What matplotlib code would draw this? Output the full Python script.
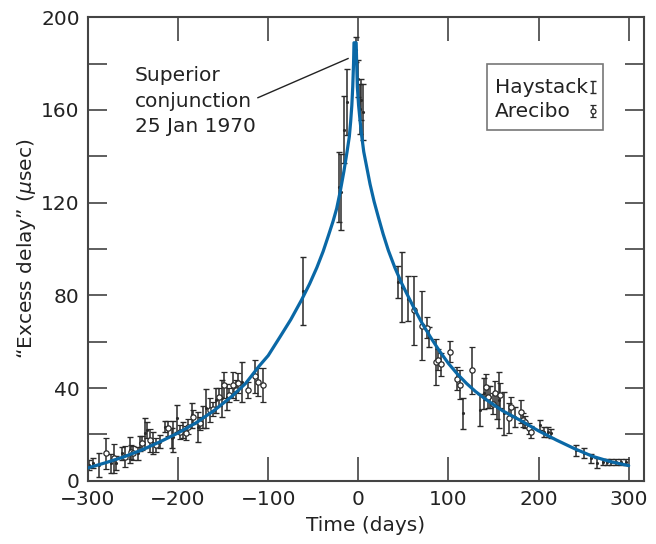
import matplotlib
matplotlib.use("Agg")
import matplotlib.pyplot as plt
from matplotlib.patches import Rectangle
from matplotlib.ticker import MultipleLocator

plt.rcParams["font.family"] = ["DejaVu Sans"]
plt.rcParams["mathtext.fontset"] = "dejavusans"

# Haystack points: day, delay (usec), error
hay_day = [-298.8, -294.4, -287.7, -274.0, -268.5, -261.8, -253.6, -244.4, -242.5, -236.2,
           -234.0, -227.7, -220.3, -214.8, -207.3, -205.5, -201.1, -194.4, -185.1, -177.7,
           -172.2, -169.2, -157.4, -151.8, -146.2, -128.8,
           -61.8, -21.1, -19.2, -15.5, -12.2, -2.6, -0.7, 1.9, 3.0, 5.6,
           44.5, 48.9, 54.8, 78.9, 116.7, 134.5, 139.7, 146.3, 153.7, 155.6,
           161.9, 174.1, 201.9, 206.3, 210.0, 213.7, 241.9, 250.8, 258.5, 264.8,
           271.5, 276.0, 280.8, 286.3, 291.5, 297.0]
hay_val = [6.8, 7.5, 6.8, 7.5, 7.5, 11.8, 13.2, 11.8, 16.1, 20.4,
           21.9, 16.1, 16.8, 23.3, 18.3, 19.0, 26.9, 21.9, 28.3, 23.3,
           27.6, 31.2, 34.8, 35.5, 36.2, 42.7,
           82.0, 126.7, 124.6, 151.5, 163.4, 186.0, 173.4, 160.5, 164.5, 159.0,
           85.8, 83.4, 78.6, 62.1, 29.0, 30.5, 37.7, 36.2, 31.9, 34.8,
           29.0, 27.3, 24.0, 21.1, 21.1, 20.4, 13.2, 12.1, 9.6, 7.5,
           8.2, 8.2, 8.2, 8.2, 8.2, 8.2]
hay_err = [2.2, 2.2, 5.0, 4.0, 3.0, 2.9, 5.7, 2.9, 3.2, 6.5,
           3.6, 4.7, 2.9, 2.5, 4.3, 6.8, 5.7, 3.6, 5.4, 6.5,
           4.7, 8.3, 5.4, 7.9, 5.7, 8.6,
           14.7, 15.0, 16.2, 14.5, 14.4, 5.4, 8.0, 10.8, 9.0, 12.0,
           6.8, 15.1, 9.6, 4.3, 6.8, 6.8, 6.6, 4.7, 5.4, 12.0,
           9.3, 4.3, 2.2, 2.2, 2.2, 2.0, 2.4, 2.2, 2.0, 2.2,
           1.3, 1.3, 1.3, 1.3, 1.3, 1.3]

# Arecibo points
are_day = [-279.6, -271.1, -259.2, -251.8, -249.9, -239.6, -230.7, -224.8, -211.1, -198.1,
           -191.4, -188.8, -183.3, -175.9, -164.8, -161.8, -154.4, -149.2, -143.3, -139.6,
           -135.9, -133.3, -122.2, -114.8, -111.1, -106.2,
           61.9, 70.4, 76.7, 85.9, 88.9, 91.9, 101.9, 109.3, 113.0, 126.0,
           141.9, 143.4, 149.3, 151.9, 157.4, 166.7, 169.3, 180.4, 182.6, 185.2,
           188.9, 191.5]
are_val = [11.8, 9.6, 10.4, 12.5, 12.1, 16.4, 17.5, 15.4, 22.6, 21.1,
           20.4, 23.3, 27.6, 24.7, 30.5, 30.8, 36.2, 41.3, 36.9, 41.3,
           39.1, 42.0, 39.1, 45.1, 42.7, 41.3,
           73.6, 66.8, 66.1, 51.3, 52.3, 50.2, 55.6, 44.1, 41.5, 47.6,
           40.5, 36.2, 33.3, 37.7, 36.9, 26.9, 31.9, 29.8, 26.2, 25.4,
           22.6, 21.1]
are_err = [6.8, 6.1, 4.7, 3.0, 3.0, 3.0, 5.0, 3.0, 3.2, 3.0,
           3.0, 3.2, 3.0, 3.0, 5.0, 3.0, 4.0, 5.7, 3.0, 5.4,
           4.3, 4.3, 3.6, 7.2, 6.1, 7.2,
           14.9, 14.9, 4.5, 9.8, 4.7, 5.0, 4.5, 4.8, 6.1, 10.0,
           5.6, 4.7, 4.7, 5.2, 5.4, 6.5, 4.3, 5.0, 3.2, 2.5,
           2.5, 2.5]

# predicted delay curve
curve_day = [-300, -280, -260, -240, -220, -200, -180, -160, -140, -125,
             -110, -100, -87, -75, -63, -54, -46, -39, -33, -28,
             -24, -20, -16, -12.5, -10, -8.5, -7.2, -6.2, -5.3, -4.8,
             -2.4, -1.8, -1.1, 0.3, 1.9, 3.7, 6.0, 9.5, 13.0, 17.5,
             22.2, 27.5, 33.3, 40.5, 48.2, 56, 63, 70, 80, 90,
             100, 110, 120, 130, 140, 160, 180, 200, 220, 240,
             260, 280, 300]
curve_val = [5.5, 7.8, 10.3, 13.3, 16.8, 20.6, 25.0, 30.3, 36.5, 42.0,
             49.5, 54.0, 62.0, 69.5, 78.0, 85.0, 92.0, 99.0, 106.0, 112.0,
             117.5, 125.0, 133.5, 142.0, 148.5, 155.0, 162.0, 170.0, 180.0, 189.0,
             189.0, 180.0, 170.0, 162.0, 155.5, 149.0, 142.0, 135.0, 128.0, 120.5,
             113.8, 106.5, 99.4, 92.0, 85.1, 79.0, 73.6, 68.5, 62.0, 56.0,
             50.6, 46.0, 42.0, 38.5, 35.5, 30.2, 26.0, 21.5, 17.5, 13.8,
             10.5, 8.2, 6.5]

ink = "#2a2a2a"
blue = "#0a68a6"
fs = 14.5

fig = plt.figure(figsize=(6.56, 5.44), dpi=100)
ax = fig.add_axes([0.1341, 0.1164, 0.8476, 0.8518])

bar_kw = dict(color=ink, ecolor=ink, elinewidth=1.1, capsize=2.5, capthick=1.0, zorder=2)
ax.errorbar(hay_day, hay_val, yerr=hay_err, fmt=".", ms=2.5, **bar_kw)
ax.errorbar(are_day, are_val, yerr=are_err, fmt="o", ms=3.8, mfc="white",
            mec=ink, mew=0.9, **bar_kw)
ax.plot(curve_day, curve_val, color=blue, lw=2.3, zorder=3,
        solid_joinstyle="round", solid_capstyle="round")

ax.set_xlim(-300, 317)
ax.set_ylim(0, 200)
ax.set_xticks(range(-300, 301, 100))
ax.set_xticklabels(["\u2212300", "\u2212200", "\u2212100", "0", "100", "200", "300"])
ax.yaxis.set_major_locator(MultipleLocator(40))
ax.yaxis.set_minor_locator(MultipleLocator(20))
ax.tick_params(which="both", direction="in", top=True, right=True,
               color="#333333", width=1.1, labelsize=fs, labelcolor="#222222")
ax.tick_params(axis="x", which="major", length=17, pad=7)
ax.tick_params(axis="y", which="both", length=14, pad=6)
for s in ax.spines.values():
    s.set_color("#444444")
    s.set_linewidth(1.5)

ax.set_xlabel("Time (days)", fontsize=fs, color="#222222", labelpad=5)
ax.set_ylabel("\u201cExcess delay\u201d ($\\mu$sec)", fontsize=fs, color="#222222",
              labelpad=2)

ax.text(-248, 179, "Superior\nconjunction\n25 Jan 1970", fontsize=fs,
        color="#222222", va="top", ha="left", linespacing=1.45)
ax.plot([-111.4, -11.4], [165.3, 182.2], color="#222222", lw=1.0, zorder=4)

# legend box, drawn by hand so the labels sit left and the symbols right
ax.add_patch(Rectangle((0.7171, 0.7567), 0.2086, 0.1419, transform=ax.transAxes,
                       fill=False, edgecolor="#777777", lw=1.2, zorder=5))
ax.text(0.7320, 0.8373, "Haystack", transform=ax.transAxes, fontsize=fs,
        color="#222222", va="baseline", ha="left", zorder=5)
ax.text(0.7320, 0.7855, "Arecibo", transform=ax.transAxes, fontsize=fs,
        color="#222222", va="baseline", ha="left", zorder=5)
ax.errorbar([0.9077], [0.8498], yerr=[0.0126], transform=ax.transAxes, fmt="none",
            ecolor=ink, elinewidth=1.1, capsize=2.5, capthick=1.0, zorder=5)
ax.errorbar([0.9077], [0.7982], yerr=[0.0126], transform=ax.transAxes, fmt="o",
            ms=3.5, mfc="white", mec=ink, mew=0.9, ecolor=ink, elinewidth=1.1,
            capsize=2.5, capthick=1.0, zorder=5)

ax.set_xlim(-300, 317)
ax.set_ylim(0, 200)

fig.savefig("out.png", dpi=100)
